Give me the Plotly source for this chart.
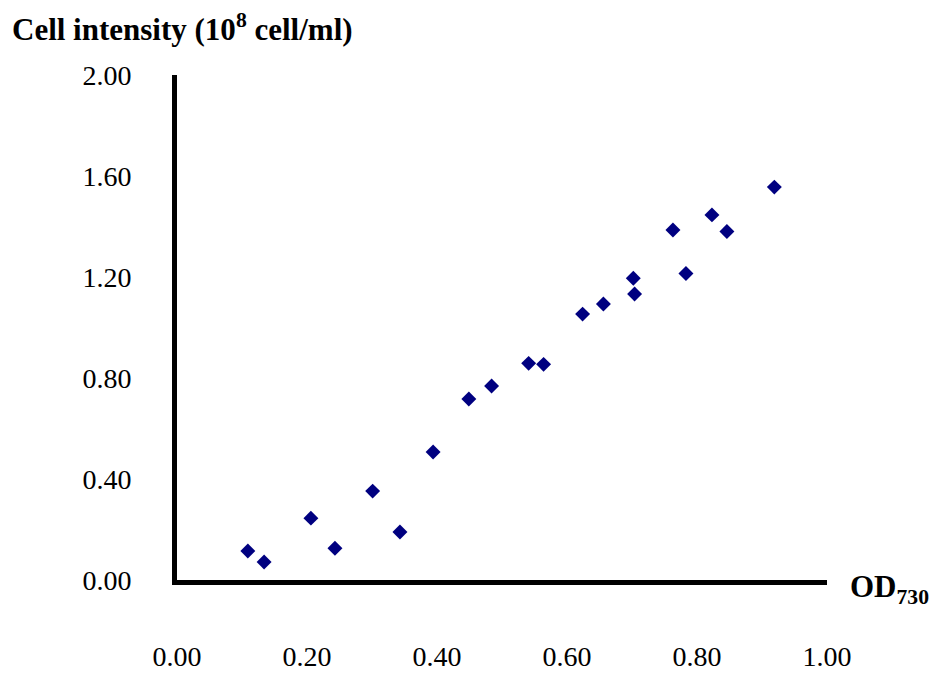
import plotly.graph_objects as go

od730 = [0.109, 0.134, 0.206, 0.243, 0.301, 0.343, 0.394, 0.449, 0.484,
         0.541, 0.564, 0.624, 0.656, 0.702, 0.704, 0.763, 0.783, 0.823, 0.846, 0.919]
cells = [0.115, 0.071, 0.245, 0.126, 0.352, 0.190, 0.507, 0.717, 0.768,
         0.858, 0.854, 1.053, 1.093, 1.195, 1.133, 1.386, 1.214, 1.446, 1.380, 1.556]

x_ticks = [0.0, 0.2, 0.4, 0.6, 0.8, 1.0]
y_ticks = [0.0, 0.4, 0.8, 1.2, 1.6, 2.0]

fig = go.Figure()
fig.add_trace(go.Scatter(
    x=od730, y=cells, mode="markers",
    marker=dict(symbol="diamond", size=11.5, color="#000080",
                line=dict(width=0)),
    showlegend=False,
))

font = dict(family="Liberation Serif, Times New Roman, serif", size=28, color="black")

L, R, T, B = 177, 107, 75, 98
W, H = 934, 678
PW, PH = W - L - R, H - T - B

def px_x(px):
    return (px - L) / PW

def px_y(py):
    return (H - B - py) / PH

fig.update_layout(
    width=W, height=H,
    margin=dict(l=L, r=R, t=T, b=B, autoexpand=False),
    paper_bgcolor="white", plot_bgcolor="white",
    font=font,
    xaxis=dict(range=[0, 1], tickvals=x_ticks, tickformat=".2f",
               showgrid=False, zeroline=False, showline=True,
               linecolor="black", linewidth=5, ticks="",
               ticklabelstandoff=47, tickfont=font, fixedrange=True,
               automargin=False),
    yaxis=dict(range=[0, 2], tickvals=y_ticks, tickformat=".2f",
               showgrid=False, zeroline=False, showline=True,
               linecolor="black", linewidth=5, ticks="",
               ticklabelstandoff=35, tickfont=font, fixedrange=True,
               automargin=False),
    annotations=[
        dict(text="<b>Cell intensity (10<sup>8</sup> cell/ml)</b>",
             xref="paper", yref="paper",
             x=px_x(10), y=px_y(28),
             xanchor="left", yanchor="middle", showarrow=False,
             font=dict(family="Liberation Serif, serif", size=31, color="black")),
        dict(text="<b>OD<sub>730</sub></b>",
             xref="paper", yref="paper",
             x=px_x(848), y=px_y(589),
             xanchor="left", yanchor="middle", showarrow=False,
             font=dict(family="Liberation Serif, serif", size=31, color="black")),
    ],
)

fig.write_html("out.html")
